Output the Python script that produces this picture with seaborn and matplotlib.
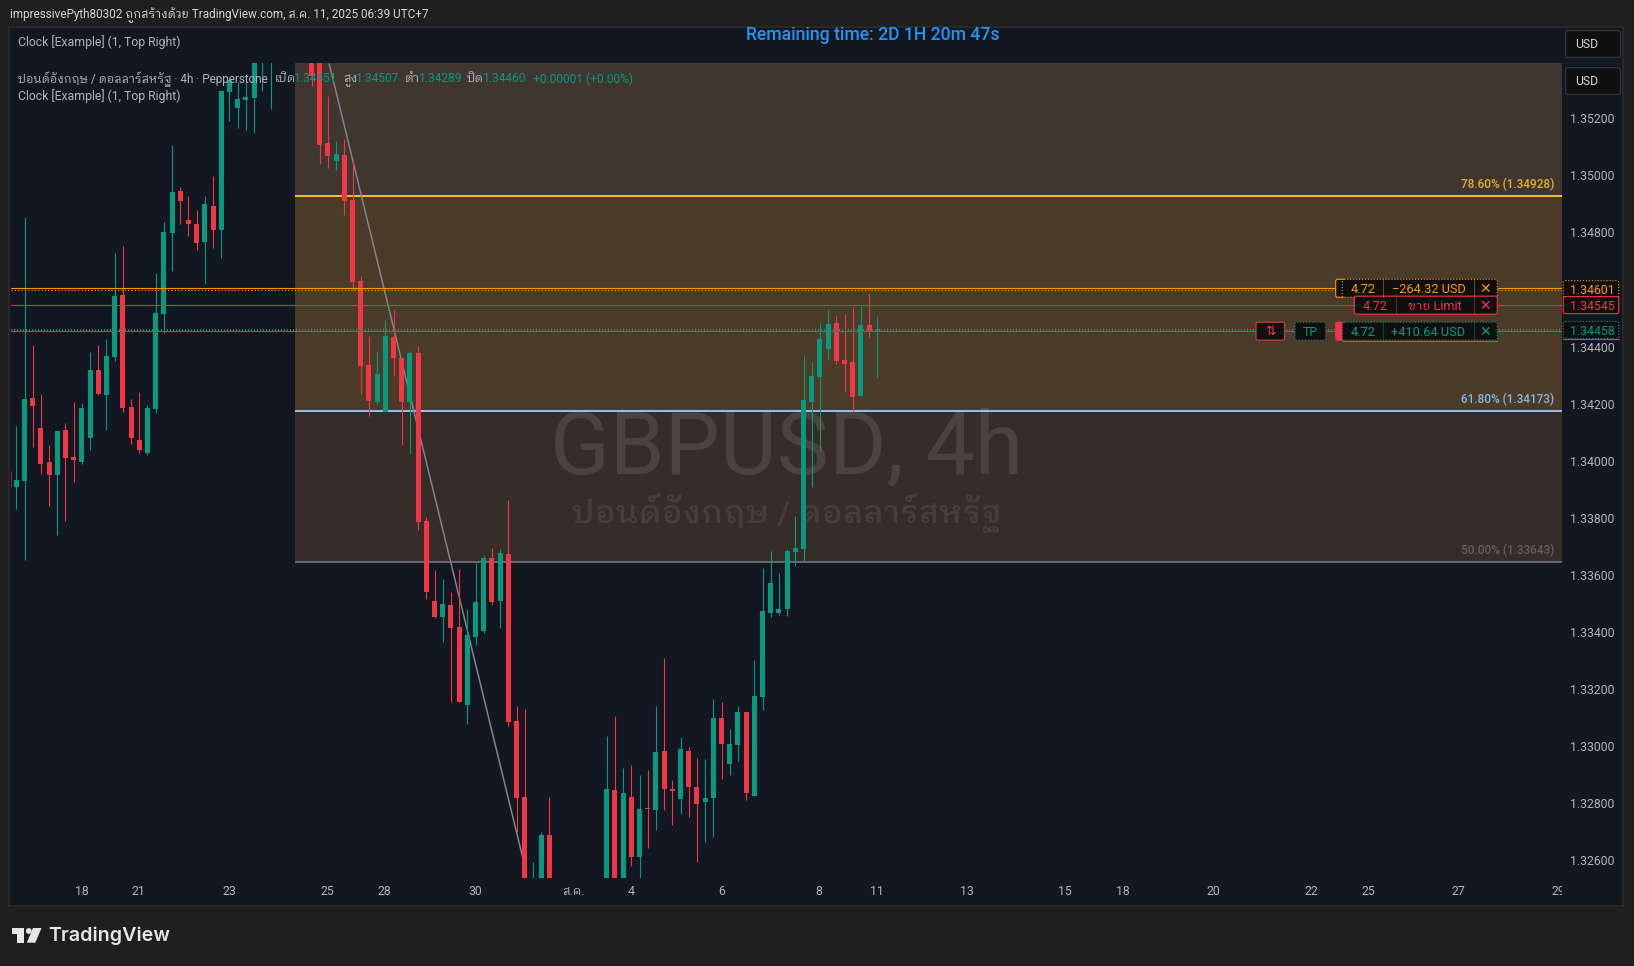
import numpy as np
import pandas as pd
import matplotlib
matplotlib.use('Agg')
import matplotlib.pyplot as plt
import seaborn as sns
from matplotlib.patches import FancyBboxPatch, Rectangle, Polygon, Circle

nan = float('nan')

# candles, bar 1 to bar 106 (nan = bar sits outside the visible price range)
opens = [1.33908,1.33929,1.34220,1.34115,1.33995,1.33950,1.34108,1.34013,1.33995,1.34080,1.34318,1.34230,1.34363,1.34581,1.34188,1.34072,1.34027,1.34181,1.34514,1.34798,
         1.34945,1.34844,1.34830,1.34767,1.34893,1.34809,1.35292,1.35236,1.35264,1.35271,1.35475,1.35440,nan,nan,nan,nan,1.35420,1.35400,1.35114,1.35051,
         1.35072,1.34914,1.34630,1.34335,1.34206,1.34171,1.34434,1.34360,1.34206,1.34377,1.33789,1.33508,1.33452,1.33494,1.33417,1.33143,1.33382,1.33403,1.33659,1.33508,
         1.33673,1.33087,1.32821,1.32460,1.32470,1.32688,nan,nan,nan,nan,nan,nan,1.32500,1.32845,1.32500,1.32821,1.32611,1.32782,1.32775,1.32982,
         1.32849,1.32814,1.32982,1.32856,1.32803,1.32817,1.33098,1.32937,1.33003,1.33119,1.32825,1.33172,1.33466,1.33466,1.33480,1.33680,1.33690,1.34206,1.34293,1.34392,
         1.34483,1.34353,1.34346,1.34227,1.34476,1.34451]
highs = [1.34122,1.34854,1.34406,1.34234,1.34055,1.34104,1.34132,1.34206,1.34202,1.34381,1.34406,1.34427,1.34728,1.34753,1.34216,1.34241,1.34195,1.34658,1.34837,1.35107,
         1.34959,1.34928,1.34879,1.34928,1.34998,1.35296,1.35335,1.35328,1.35328,1.35440,1.35550,1.35520,nan,nan,nan,nan,1.35450,1.35430,1.35278,1.35121,
         1.35128,1.35047,1.34647,1.34437,1.34381,1.34493,1.34528,1.34360,1.34385,1.34402,1.33803,1.33617,1.33585,1.33540,1.33620,1.33480,1.33641,1.33666,1.33694,1.33690,
         1.33862,1.33140,1.33129,1.32593,1.32698,1.32821,nan,nan,nan,nan,nan,nan,1.33035,1.33105,1.32923,1.32933,1.32898,1.32916,1.33140,1.33308,
         1.32881,1.33031,1.32996,1.32958,1.32954,1.33165,1.33154,1.33059,1.33140,1.33119,1.33301,1.33624,1.33683,1.33606,1.33690,1.33806,1.34367,1.34346,1.34483,1.34532,
         1.34507,1.34514,1.34539,1.34542,1.34588,1.34507]
lows = [1.33831,1.33652,1.34048,1.33953,1.33841,1.33739,1.33789,1.33925,1.33988,1.34037,1.34230,1.34108,1.34349,1.34171,1.34058,1.34027,1.34020,1.34167,1.34448,1.34665,
        1.34830,1.34788,1.34739,1.34619,1.34746,1.34711,1.35191,1.35166,1.35159,1.35149,1.35296,1.35233,nan,nan,nan,nan,1.35314,1.35040,1.35026,1.35019,
        1.34861,1.34598,1.34234,1.34157,1.34199,1.34171,1.34297,1.34055,1.34023,1.33757,1.33515,1.33449,1.33364,1.33154,1.33154,1.33077,1.33354,1.33396,1.33494,1.33413,
        1.33070,1.32698,1.32480,1.32440,1.32450,1.32460,nan,nan,nan,nan,nan,nan,1.32480,1.32480,1.32480,1.32579,1.32530,1.32642,1.32705,1.32775,
        1.32723,1.32761,1.32751,1.32593,1.32663,1.32681,1.32884,1.32898,1.32947,1.32810,1.32825,1.33126,1.33452,1.33459,1.33455,1.33631,1.33648,1.33908,1.34034,1.34353,
        1.34339,1.34241,1.34174,1.34227,1.34430,1.34289]
closes = [1.33932,1.34216,1.34192,1.33988,1.33950,1.34104,1.34009,1.34002,1.34185,1.34318,1.34234,1.34367,1.34577,1.34185,1.34080,1.34037,1.34185,1.34518,1.34802,1.34942,
          1.34910,1.34830,1.34763,1.34900,1.34809,1.35296,1.35335,1.35268,1.35275,1.35422,1.35527,1.35500,nan,nan,nan,nan,1.35349,1.35107,1.35068,1.35075,
          1.34910,1.34626,1.34332,1.34209,1.34304,1.34437,1.34360,1.34206,1.34377,1.33785,1.33540,1.33452,1.33498,1.33413,1.33154,1.33389,1.33505,1.33659,1.33505,1.33676,
          1.33084,1.32817,1.32500,1.32512,1.32688,1.32480,nan,nan,nan,nan,nan,nan,1.32849,1.32500,1.32835,1.32611,1.32779,1.32779,1.32979,1.32849,
          1.32842,1.32989,1.32856,1.32796,1.32817,1.33098,1.33007,1.33007,1.33119,1.32835,1.33175,1.33473,1.33571,1.33480,1.33683,1.33694,1.34213,1.34297,1.34427,1.34479,
          1.34349,1.34339,1.34223,1.34476,1.34455,1.34460]

# wick of the bar cut by the left edge
edge_wick = [1.33964, 1.33908]

fib_levels = [1.34928, 1.34173, 1.33643]
fib_labels = ['78.60% (1.34928)', '61.80% (1.34173)', '50.00% (1.33643)']
fib_start = 35
trend_x = [39.17, 63]
trend_y = [1.3539, 1.3258]

price_ticks = [1.352, 1.350, 1.348, 1.346, 1.344, 1.342, 1.340, 1.338, 1.336, 1.334, 1.332, 1.330, 1.328, 1.326]
time_pos = [8.99, 15.94, 26.94, 38.94, 45.93, 56.98, 68.94, 75.97, 86.97, 98.92, 105.9, 116.9, 128.9, 135.9, 147.0, 158.9, 165.9, 176.9, 189.0]
time_labels = ['18', '21', '23', '25', '28', '30', 'ส.ค.', '4', '6', '8', '11', '13', '15', '18', '20', '22', '25', '27', '29']

GREEN = '#089981'
RED = '#F23645'
ORANGE = '#FF9800'
GREY = '#B2B5BE'
DARK = '#0F0F0F'

sns.set_theme(style='dark', rc={'axes.grid': False})
plt.rcParams['font.family'] = ['Roboto', 'IBM Plex Sans Thai Looped', 'DejaVu Sans']

fig = plt.figure(figsize=(16.34, 9.66), dpi=100, facecolor='#1F1F1F')
W, H = 1634, 966

def px_axes(x0, y0, x1, y1, **kw):
    return fig.add_axes([x0 / W, (H - y1) / H, (x1 - x0) / W, (y1 - y0) / H], **kw)

back = px_axes(0, 0, W, H, zorder=-1)
back.set_xlim(0, W)
back.set_ylim(H, 0)
back.axis('off')
back.add_patch(Rectangle((9.5, 26.5), 1614, 879, fc='#131722', ec='#2A2A2A', lw=1.4))
back.plot([11, 1622], [63, 63], color='#1A1E29', lw=0.7)

ax = px_axes(11, 63, 1562, 878, zorder=2, facecolor='#131722')
x_max = (1562 - 8.1) / 8.2
ax.set_xlim((11 - 8.1) / 8.2, x_max)
ax.set_ylim(1.325368, 1.353939)

# fib zones
zone_edges = [ax.get_ylim()[1]] + fib_levels
zone_colors = ['#3F3630', '#4B3B29', '#372D28']
for i in range(3):
    ax.fill_between([fib_start, x_max], zone_edges[i + 1], zone_edges[i], color=zone_colors[i], lw=0, zorder=1)

# watermark
ax.text(94.9, 1.34040, 'GBPUSD, 4h', color='white', alpha=0.105, fontsize=63.2, ha='center', va='center', zorder=1.2)
ax.text(94.9, 1.33817, 'ปอนด์อังกฤษ / ดอลลาร์สหรัฐ', color='white', alpha=0.085, fontsize=23.4, weight='medium', ha='center', va='center', zorder=1.2)

fib_colors = ['#F9B82E', '#90BFF0', '#666870']
ax.hlines(fib_levels, fib_start, x_max, colors=fib_colors, lw=1.44, zorder=1.5)
ax.plot(trend_x, trend_y, color='#82848C', lw=1.1, zorder=1.6)

# candles
bars = np.arange(1, len(opens) + 1)
candles = pd.DataFrame({'bar': bars, 'open': opens, 'high': highs, 'low': lows, 'close': closes}).dropna()
candles['up'] = candles['close'] >= candles['open']
candles['bottom'] = candles[['open', 'close']].min(axis=1)
candles['height'] = (candles['close'] - candles['open']).abs()

for up, color in [(True, GREEN), (False, RED)]:
    sub = candles[candles['up'] == up].sort_values('bar')
    ax.vlines(sub['bar'], sub['low'], sub['high'], colors=color, lw=0.8, zorder=3)
    sns.barplot(data=sub, x='bar', y='height', bottom=sub['bottom'].values, native_scale=True, width=0.61,
                color=color, saturation=1, errorbar=None, linewidth=0, zorder=3, ax=ax)
ax.vlines(0.4, edge_wick[1], edge_wick[0], colors='#8A2A35', lw=0.8, zorder=3)

# restore limits after seaborn
ax.set_xlim((11 - 8.1) / 8.2, x_max)
ax.set_ylim(1.325368, 1.353939)

# order lines
ax.axhline(1.34604, color=ORANGE, lw=0.8, zorder=4)
ax.axhline(1.34599, color=ORANGE, lw=0.8, ls=(0, (1, 2)), zorder=4)
ax.axhline(1.34545, color='#D23A48', lw=0.8, zorder=4)
ax.axhline(1.34453, color='#D23A48', lw=0.8, zorder=4)
ax.axhline(1.34458, color=GREEN, lw=1.44, ls=(0, (0.5, 1)), zorder=4)

for s in ax.spines.values():
    s.set_visible(False)
ax.set_xlabel('')
ax.set_ylabel('')
ax.yaxis.tick_right()
ax.set_yticks(price_ticks, [f'{p:.5f}' for p in price_ticks])
ax.set_xticks(time_pos, time_labels)
ax.tick_params(axis='y', length=0, pad=5.8, labelsize=8.8, labelcolor=GREY)
ax.tick_params(axis='x', length=0, pad=5, labelsize=8.8, labelcolor=GREY)
for lab in ax.get_xticklabels():
    lab.set_clip_box(matplotlib.transforms.Bbox([[0, 0], [1562, H]]))
    lab.set_clip_on(True)

# everything in screen pixels from here
ov = px_axes(0, 0, W, H, zorder=5)
ov.set_xlim(0, W)
ov.set_ylim(H, 0)
ov.axis('off')
ov.patch.set_alpha(0)

def py(price):
    return H - ax.transData.transform((0, price))[1]

def label(x, y, s, color=GREY, size=12.3, ha='left', **kw):
    kw.setdefault('zorder', 8)
    ov.text(x, y, s, color=color, fontsize=size * 0.72, ha=ha, va='center', **kw)

def box(x0, x1, y0, y1, edge, ls='-', fill=DARK):
    ov.add_patch(FancyBboxPatch((x0, y0), x1 - x0, y1 - y0, boxstyle='round,pad=0,rounding_size=2',
                                fc=fill, ec=edge, lw=0.8, ls=ls, zorder=6))

# header, legend lines
label(9.8, 15, 'impressivePyth80302 ถูกสร้างด้วย TradingView.com, ส.ค. 11, 2025 06:39 UTC+7', color='#D6D6D6', size=11.8)
label(17.9, 42, 'Clock [Example] (1, Top Right)')
label(873, 35.5, 'Remaining time: 2D 1H 20m 47s', color='#2196F3', size=17.6, ha='center', weight='medium')
label(17.9, 79, 'ปอนด์อังกฤษ / ดอลลาร์สหรัฐ · 4h · Pepperstone', size=11.7)
label(17.9, 96, 'Clock [Example] (1, Top Right)')
for x, s in [(274.5, 'เปิด'), (343, 'สูง'), (405, 'ต่ำ'), (467, 'ปิด')]:
    label(x, 79, s)
for x, s in [(293.8, '1.34451'), (356, '1.34507'), (418.8, '1.34289'), (483, '1.34460'), (532.6, '+0.00001 (+0.00%)')]:
    label(x, 79, s, color=GREEN, size=12)

# fib labels
fib_text = ['#E8AE30', '#8DB4DF', '#5F616A']
for lev, txt, c in zip(fib_levels, fib_labels, fib_text):
    label(1554, py(lev) - 11.8, txt, color=c, ha='right', size=11.7, weight='medium')

# USD buttons
for y0 in [30.7, 67.7]:
    box(1565.7, 1620.3, y0, y0 + 26.6, '#363A45')
    label(1575, y0 + 13.6, 'USD', color='#D1D4DC')

# order boxes
def order_row(y, x0, edge, ls, qty_x, sep0, mid, col):
    box(x0, 1497.3, y - 9, y + 9, edge, ls)
    ov.plot([sep0, sep0], [y - 9, y + 9], color=col, lw=0.5, alpha=0.6, zorder=7)
    ov.plot([1473.7, 1473.7], [y - 9, y + 9], color=col, lw=0.5, alpha=0.6, zorder=7)
    label(qty_x, y + 1.2, '4.72', color=col, ha='center', size=12.8)
    label((sep0 + 1473.7) / 2, y + 1.2, mid, color=col, ha='center', size=12.8)
    ov.text(1485.3, y + 0.8, '✕', color=col, fontsize=10, ha='center', va='center', family='DejaVu Sans', zorder=8)

y_orange = py(1.34601) - 0.9
y_red = py(1.34545)
y_green = py(1.34458) + 1.2
box(1335.7, 1345, y_orange - 9, y_orange + 9, ORANGE)
order_row(y_orange, 1342.3, ORANGE, ':', 1363, 1383.3, '−264.32 USD', ORANGE)
box(1335.7, 1343, y_green - 9, y_green + 9, RED, fill=RED)
order_row(y_green, 1342.3, GREEN, ':', 1363, 1383.3, '+410.64 USD', GREEN)
ov.plot([1342.3, 1497.3], [y_green + 9.5] * 2, color=RED, lw=0.8, zorder=7)
order_row(y_red, 1354.3, RED, '-', 1375, 1395.7, 'ขาย Limit', RED)

box(1295, 1325.7, y_green - 9, y_green + 9, GREEN, ':')
label(1310.3, y_green + 1, 'TP', color=GREEN, ha='center')
box(1256, 1284.7, y_green - 9, y_green + 9, RED)
ov.text(1270.3, y_green, '⇅', color=RED, fontsize=9, ha='center', va='center', family='DejaVu Sans', zorder=8)

# price tags on the scale
for price, edge, ls, col in [(1.34601, ORANGE, ':', ORANGE), (1.34545, RED, '-', RED), (1.34458, GREEN, ':', GREEN)]:
    y = py(price)
    box(1563.3, 1618.7, y - 8.5, y + 8.5, edge, ls)
    label(1592, y + 1.2, f'{price:.5f}', color=col, ha='center')
ov.plot([1563.3, 1618.7], [py(1.34458) + 9] * 2, color=RED, lw=0.8, zorder=7)

# TradingView mark
ov.add_patch(Polygon([(11.9, 928), (24.5, 928), (24.5, 942.7), (17.5, 942.7), (17.5, 934), (11.9, 934)], fc='#E6E6E6', ec='none'))
ov.add_patch(Circle((28.8, 931), 2.9, fc='#E6E6E6', ec='none'))
ov.add_patch(Polygon([(33, 928), (41.5, 928), (35.3, 942.7), (26.8, 942.7)], fc='#E6E6E6', ec='none'))
ov.text(48.5, 936, 'TradingView', color='#E6E6E6', fontsize=14.2, ha='left', va='center', family='Inter', weight='semibold')

fig.savefig('out.png', dpi=100, facecolor=fig.get_facecolor())
